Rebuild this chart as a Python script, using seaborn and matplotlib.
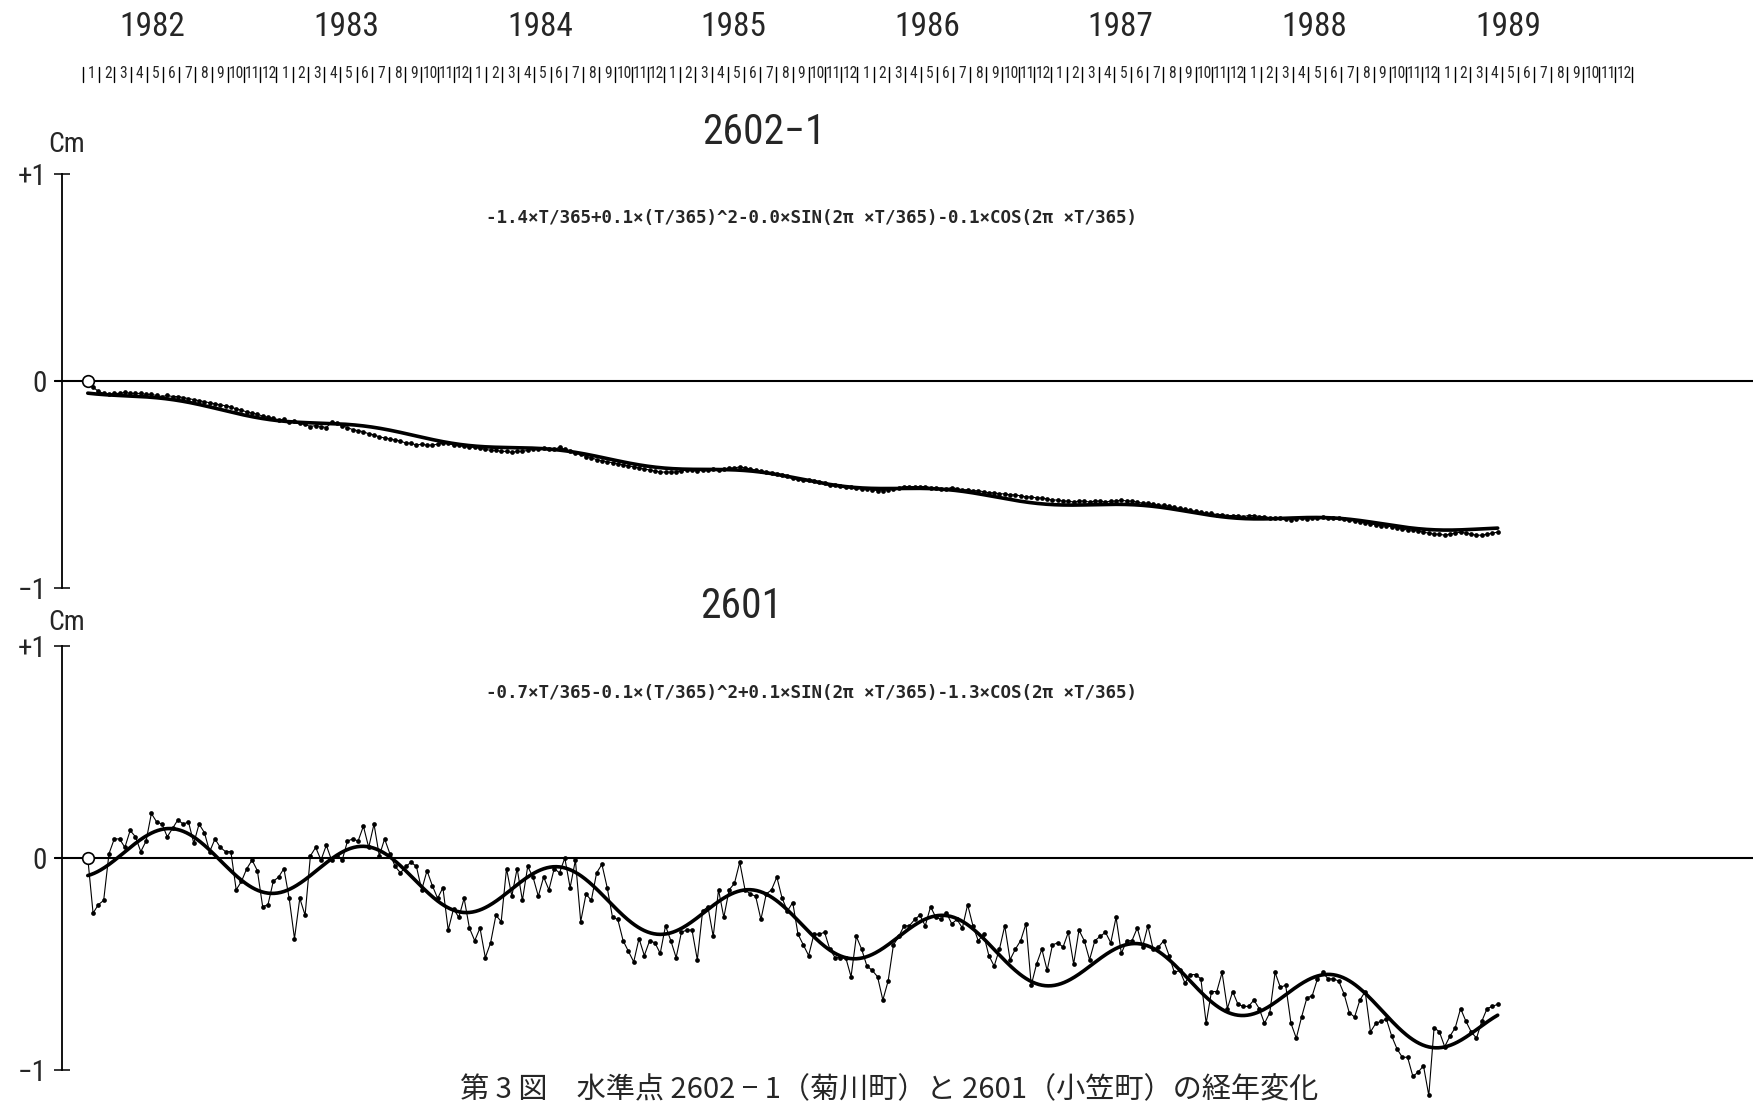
import numpy as np
import pandas as pd
import matplotlib
matplotlib.use("Agg")
import matplotlib.pyplot as plt
import matplotlib.dates as mdates
import matplotlib.transforms as mtransforms
from matplotlib.lines import Line2D
from matplotlib import font_manager as fm
import seaborn as sns

# ---------------------------------------------------------------------------
# Levelling readings (cm, relative to the first survey), one every 10 days
# starting 1982-01-10.  Each list holds roughly one year of readings.
# ---------------------------------------------------------------------------
FIRST_READING = "1982-01-10"
READING_STEP = "10D"

bm2602_1_p1 = [0.00, -0.03, -0.05, -0.06, -0.065, -0.06, -0.06, -0.055, -0.06, -0.06,
               -0.06, -0.065, -0.065, -0.07, -0.075, -0.07, -0.075, -0.075, -0.08, -0.085,
               -0.09, -0.095, -0.10, -0.105, -0.11, -0.115, -0.12, -0.125, -0.135, -0.14,
               -0.15, -0.155, -0.16, -0.17, -0.175, -0.18]
bm2602_1_p2 = [-0.19, -0.185, -0.20, -0.195, -0.205, -0.21, -0.22, -0.215, -0.22, -0.225,
               -0.20, -0.205, -0.215, -0.225, -0.235, -0.24, -0.245, -0.255, -0.26, -0.27,
               -0.275, -0.28, -0.285, -0.29, -0.30, -0.30, -0.31, -0.305, -0.31, -0.31,
               -0.305, -0.30, -0.30, -0.31, -0.31, -0.315, -0.32]
bm2602_1_p3 = [-0.32, -0.325, -0.33, -0.335, -0.335, -0.34, -0.34, -0.345, -0.34, -0.34,
               -0.335, -0.33, -0.33, -0.325, -0.33, -0.33, -0.32, -0.33, -0.34, -0.35,
               -0.355, -0.365, -0.37, -0.38, -0.385, -0.39, -0.395, -0.40, -0.405, -0.41,
               -0.415, -0.42, -0.425, -0.43, -0.435, -0.44, -0.44]
bm2602_1_p4 = [-0.44, -0.44, -0.435, -0.43, -0.43, -0.435, -0.43, -0.43, -0.425, -0.43,
               -0.425, -0.42, -0.42, -0.415, -0.42, -0.425, -0.43, -0.435, -0.44, -0.445,
               -0.45, -0.455, -0.46, -0.47, -0.475, -0.48, -0.48, -0.485, -0.49, -0.495,
               -0.50, -0.50, -0.505, -0.51, -0.51, -0.515, -0.52]
bm2602_1_p5 = [-0.52, -0.525, -0.53, -0.53, -0.525, -0.52, -0.515, -0.51, -0.51, -0.51,
               -0.51, -0.51, -0.515, -0.515, -0.52, -0.52, -0.515, -0.52, -0.525, -0.525,
               -0.53, -0.53, -0.535, -0.54, -0.54, -0.545, -0.545, -0.55, -0.55, -0.555,
               -0.56, -0.56, -0.565, -0.565, -0.57, -0.575, -0.575]
bm2602_1_p6 = [-0.58, -0.58, -0.585, -0.58, -0.58, -0.585, -0.58, -0.58, -0.585, -0.58,
               -0.58, -0.575, -0.58, -0.58, -0.585, -0.59, -0.59, -0.595, -0.60, -0.60,
               -0.605, -0.61, -0.615, -0.62, -0.625, -0.63, -0.635, -0.64, -0.64, -0.645,
               -0.645, -0.65, -0.65, -0.65, -0.655, -0.65]
bm2602_1_p7 = [-0.65, -0.655, -0.655, -0.66, -0.66, -0.66, -0.665, -0.67, -0.665, -0.66,
               -0.665, -0.66, -0.66, -0.655, -0.66, -0.66, -0.66, -0.665, -0.67, -0.675,
               -0.68, -0.685, -0.69, -0.695, -0.70, -0.70, -0.705, -0.71, -0.715, -0.72,
               -0.72, -0.725, -0.73, -0.735, -0.74, -0.74, -0.745]
bm2602_1_p8 = [-0.74, -0.735, -0.73, -0.735, -0.74, -0.745, -0.745, -0.74, -0.735, -0.73]

bm2601_p1 = [0.00, -0.26, -0.22, -0.20, 0.02, 0.09, 0.09, 0.05, 0.13, 0.10,
             0.03, 0.08, 0.21, 0.17, 0.16, 0.10, 0.14, 0.18, 0.16, 0.17,
             0.07, 0.16, 0.12, 0.03, 0.09, 0.05, 0.03, 0.03, -0.15, -0.11,
             -0.05, -0.01, -0.06, -0.23, -0.22, -0.11]
bm2601_p2 = [-0.09, -0.05, -0.19, -0.38, -0.19, -0.27, 0.01, 0.05, -0.01, 0.06,
             -0.01, 0.01, -0.01, 0.08, 0.09, 0.08, 0.15, 0.05, 0.16, 0.01,
             0.09, 0.02, -0.04, -0.07, -0.04, -0.02, -0.04, -0.15, -0.06, -0.13,
             -0.19, -0.14, -0.34, -0.24, -0.28, -0.19, -0.33]
bm2601_p3 = [-0.39, -0.33, -0.47, -0.40, -0.27, -0.30, -0.05, -0.18, -0.05, -0.20,
             -0.04, -0.09, -0.18, -0.09, -0.15, -0.05, -0.07, 0.00, -0.14, -0.01,
             -0.30, -0.17, -0.20, -0.07, -0.03, -0.14, -0.28, -0.29, -0.39, -0.44,
             -0.49, -0.38, -0.46, -0.39, -0.40, -0.45, -0.32]
bm2601_p4 = [-0.39, -0.47, -0.35, -0.34, -0.34, -0.48, -0.25, -0.23, -0.37, -0.15,
             -0.28, -0.15, -0.12, -0.02, -0.15, -0.17, -0.18, -0.29, -0.17, -0.15,
             -0.09, -0.19, -0.25, -0.21, -0.36, -0.41, -0.46, -0.36, -0.36, -0.35,
             -0.43, -0.47, -0.47, -0.47, -0.56, -0.37, -0.43]
bm2601_p5 = [-0.51, -0.53, -0.56, -0.67, -0.58, -0.41, -0.37, -0.32, -0.32, -0.29,
             -0.27, -0.32, -0.23, -0.28, -0.29, -0.26, -0.31, -0.29, -0.33, -0.22,
             -0.32, -0.39, -0.36, -0.46, -0.51, -0.43, -0.32, -0.48, -0.43, -0.39,
             -0.31, -0.60, -0.50, -0.43, -0.53, -0.41, -0.40]
bm2601_p6 = [-0.42, -0.35, -0.50, -0.34, -0.39, -0.48, -0.39, -0.37, -0.35, -0.40,
             -0.28, -0.45, -0.39, -0.39, -0.33, -0.42, -0.32, -0.43, -0.42, -0.39,
             -0.46, -0.54, -0.53, -0.59, -0.55, -0.55, -0.57, -0.78, -0.63, -0.63,
             -0.54, -0.71, -0.63, -0.69, -0.70, -0.70]
bm2601_p7 = [-0.67, -0.71, -0.78, -0.73, -0.54, -0.61, -0.60, -0.78, -0.85, -0.75,
             -0.66, -0.65, -0.57, -0.54, -0.57, -0.57, -0.58, -0.64, -0.73, -0.75,
             -0.67, -0.63, -0.82, -0.78, -0.77, -0.76, -0.84, -0.90, -0.94, -0.94,
             -1.03, -1.01, -0.98, -1.12, -0.80, -0.82, -0.89]
bm2601_p8 = [-0.84, -0.80, -0.71, -0.77, -0.82, -0.85, -0.77, -0.71, -0.70, -0.69]

stations = ["2602−1", "2601"]
formulas = [
    "-1.4×T/365+0.1×(T/365)^2-0.0×SIN(2π ×T/365)-0.1×COS(2π ×T/365)",
    "-0.7×T/365-0.1×(T/365)^2+0.1×SIN(2π ×T/365)-1.3×COS(2π ×T/365)",
]
years = list(range(1982, 1990))
caption = "第 3 図　水準点 2602 − 1（菊川町）と 2601（小笠町）の経年変化"

series = [
    np.concatenate([bm2602_1_p1, bm2602_1_p2, bm2602_1_p3, bm2602_1_p4,
                    bm2602_1_p5, bm2602_1_p6, bm2602_1_p7, bm2602_1_p8]),
    np.concatenate([bm2601_p1, bm2601_p2, bm2601_p3, bm2601_p4,
                    bm2601_p5, bm2601_p6, bm2601_p7, bm2601_p8]),
]

# ---------------------------------------------------------------------------
# Page layout (pixels on a 1753 x 1105 canvas)
# ---------------------------------------------------------------------------
W, H = 1753, 1105
AXIS_X = 62            # vertical axis line
JAN82_X = 83           # start of January 1982
PX_PER_YEAR = 193.6
PANELS = [dict(zero=381, unit=207, ylim=(-1.1, 1.1), cm=(67, 145), title=(764, 132), formula=(812, 218)),
          dict(zero=858, unit=212, ylim=(-1.22, 1.1), cm=(67, 622), title=(741, 607), formula=(812, 693))]

sns.set_theme(style="white")
plt.rcParams["axes.unicode_minus"] = False


def pick_narrow_face():
    """Narrowest plain sans face installed, for the plotter-style lettering."""
    entries = fm.fontManager.ttflist
    names = {f.name for f in entries}
    for name in ("Liberation Sans Narrow", "Roboto Condensed", "Open Sans Condensed",
                 "Noto Sans Condensed", "DejaVu Sans Condensed"):
        if name in names:
            return dict(family=[name, "DejaVu Sans"]), True
    for f in entries:
        st = f.stretch
        narrow = (isinstance(st, str) and "condensed" in st) or (isinstance(st, (int, float)) and st < 500)
        if narrow and f.style == "normal" and "Mono" not in f.name and "Serif" not in f.name:
            return dict(family=[f.name, "DejaVu Sans"], stretch=st), True
    return dict(family=["DejaVu Sans"]), False


NARROW, HAVE_NARROW = pick_narrow_face()
plt.rcParams["font.family"] = NARROW["family"]
SCALE = 1.0 if HAVE_NARROW else 0.8   # shrink lettering when no narrow face exists

T0 = pd.Timestamp("1982-01-01")
T0_NUM = mdates.date2num(T0)


def t_to_num(t_years):
    return T0_NUM + t_years * 365.25


x_lo = t_to_num((AXIS_X - JAN82_X) / PX_PER_YEAR)
x_hi = t_to_num((W - JAN82_X) / PX_PER_YEAR)

fig = plt.figure(figsize=(W / 100, H / 100), dpi=100)
fig.patch.set_facecolor("white")


def fig_xy(x, y):
    return x / W, 1 - y / H


def label(x, y, s, size, **kw):
    opts = dict(NARROW)
    opts.update(kw)
    return fig.text(x, y, s, fontsize=size, **opts)


def harmonic_design(t):
    return np.column_stack([np.ones_like(t), t, t ** 2,
                            np.sin(2 * np.pi * t), np.cos(2 * np.pi * t)])


axes = []
for i, (p, values) in enumerate(zip(PANELS, series)):
    ylo, yhi = p["ylim"]
    top_px = p["zero"] - yhi * p["unit"]
    bot_px = p["zero"] - ylo * p["unit"]
    ax = fig.add_axes([AXIS_X / W, 1 - bot_px / H, (W - AXIS_X) / W, (bot_px - top_px) / H])
    ax.patch.set_alpha(0)
    axes.append(ax)

    dates = pd.date_range(FIRST_READING, periods=len(values), freq=READING_STEP)
    df = pd.DataFrame({"date": dates, "cm": values})
    t = ((df["date"] - T0).dt.days.to_numpy()) / 365.25

    # least-squares trend + annual term, drawn as the smooth curve
    coef, *_ = np.linalg.lstsq(harmonic_design(t), values, rcond=None)
    fine_dates = pd.date_range(dates[0], dates[-1], freq="2D")
    tf = ((fine_dates - T0).days.to_numpy()) / 365.25
    fit = pd.DataFrame({"date": fine_dates, "cm": harmonic_design(tf) @ coef})

    ax.axhline(0, xmin=-0.004, color="black", lw=1.5, zorder=1, clip_on=False)
    sns.lineplot(data=df, x="date", y="cm", ax=ax, color="black", lw=0.8,
                 marker="o", markersize=3.4, markeredgewidth=0, estimator=None,
                 sort=False, zorder=3)
    sns.lineplot(data=fit, x="date", y="cm", ax=ax, color="black", lw=2.6,
                 estimator=None, sort=False, zorder=4)
    sns.scatterplot(x=[dates[0]], y=[values[0]], ax=ax, s=70, facecolor="white",
                    edgecolor="black", linewidth=1.2, zorder=5)

    ax.set_xlim(x_lo, x_hi)
    ax.set_ylim(ylo, yhi)
    for side in ("top", "right", "bottom"):
        ax.spines[side].set_visible(False)
    ax.spines["left"].set_bounds(-1, 1)
    ax.spines["left"].set_color("black")
    ax.spines["left"].set_linewidth(1.3)
    ax.set_xticks([])
    ax.set_yticks([-1, 0, 1])
    ax.set_yticklabels(["−1", "0", "+1"])
    for lab in ax.get_yticklabels():
        lab.set_fontsize(19 * SCALE + 2)
        lab.set_family(NARROW["family"])
    ax.tick_params(axis="y", direction="inout", length=12, width=1.3, pad=5, left=True)
    ax.set_xlabel("")
    ax.set_ylabel("")

    label(*fig_xy(*p["cm"]), "Cm", 19 * SCALE + 1, ha="center", va="center")
    label(*fig_xy(*p["title"]), stations[i], 30 * SCALE, ha="center", va="center")
    fig.text(*fig_xy(*p["formula"]), formulas[i], ha="center", va="center",
             fontsize=12.6, fontweight="bold", family=["DejaVu Sans Mono", "DejaVu Sans"])

# calendar header: years and month cells
head = mtransforms.blended_transform_factory(axes[0].transData, fig.transFigure)
MONTH_Y = 1 - 74 / H
BAR_HALF = 7.5 / H
for yr in years:
    label(t_to_num(yr - 1982 + 0.36), 1 - 27 / H, str(yr), 24 * SCALE, transform=head,
          ha="center", va="center")
    for m in range(1, 13):
        x0 = mdates.date2num(pd.Timestamp(year=yr, month=m, day=1))
        x1 = mdates.date2num(pd.Timestamp(year=yr + (m == 12), month=m % 12 + 1, day=1))
        fig.add_artist(Line2D([x0, x0], [MONTH_Y - BAR_HALF, MONTH_Y + BAR_HALF],
                              transform=head, color="black", lw=1.0))
        label(x0 + 0.55 * (x1 - x0), MONTH_Y, str(m), 12 * SCALE - 0.8, transform=head,
              ha="center", va="center")
x_end = mdates.date2num(pd.Timestamp("1990-01-01"))
fig.add_artist(Line2D([x_end, x_end], [MONTH_Y - BAR_HALF, MONTH_Y + BAR_HALF],
                      transform=head, color="black", lw=1.0))

fig.text(*fig_xy(889, 1090), caption, ha="center", va="center", fontsize=21,
         family=["Noto Sans CJK JP", "DejaVu Sans"])

fig.savefig("out.png", dpi=100, facecolor="white")
